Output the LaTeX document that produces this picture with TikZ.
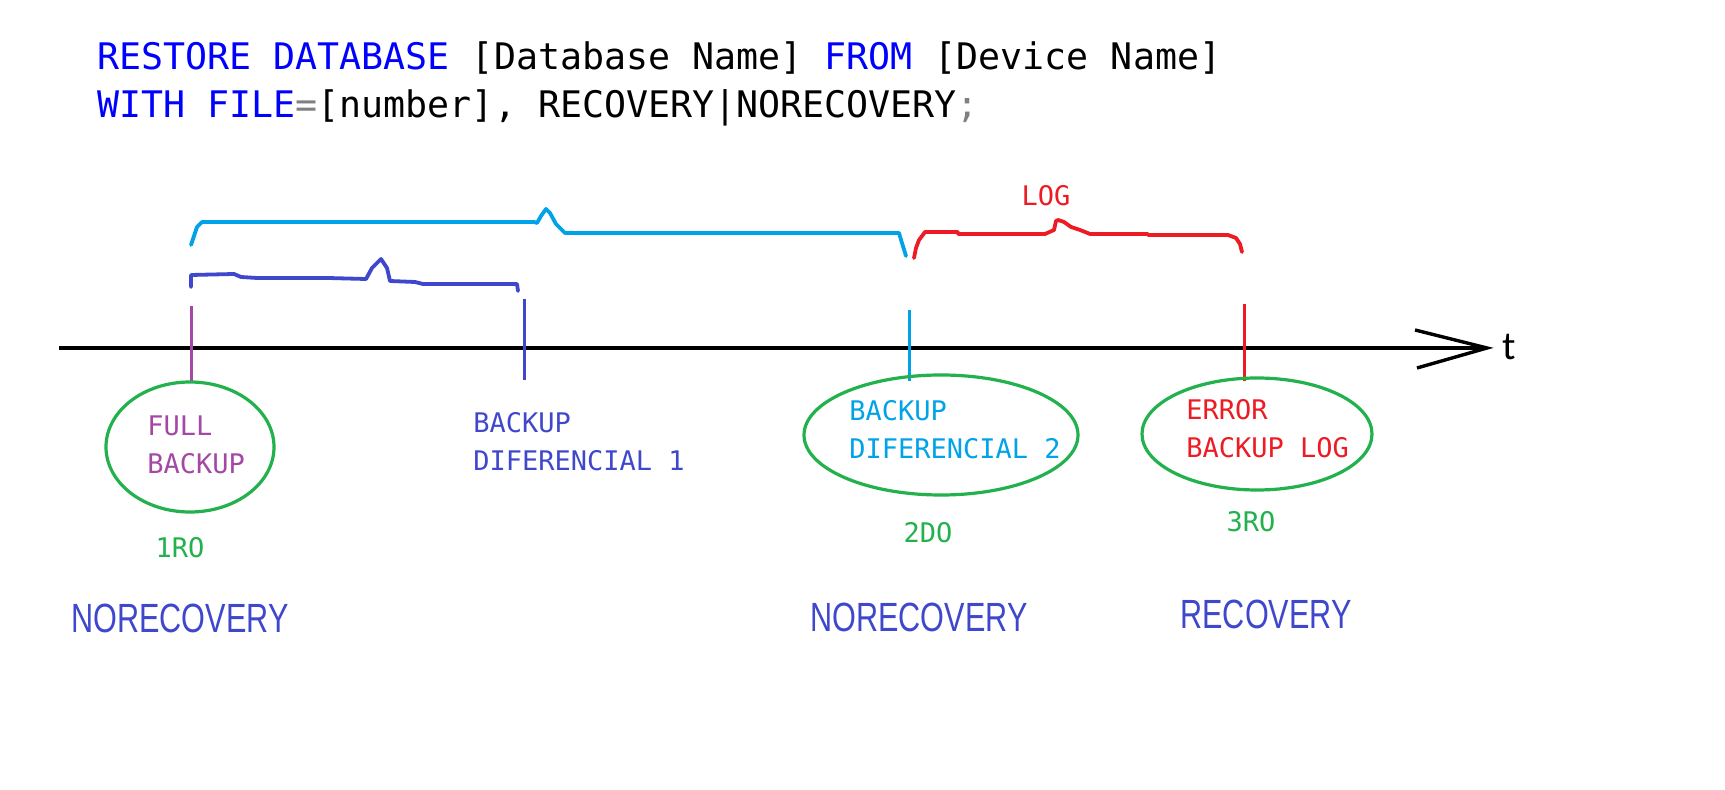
\documentclass[tikz,border=0pt]{standalone}
\usepackage{fontspec}
\usetikzlibrary{shapes.geometric}
\newfontfamily\codefont{DejaVu Sans Mono}
\newfontfamily\modefont{Liberation Sans}[FakeStretch=0.75]
\newfontfamily\axisfont{Carlito}
\definecolor{kwblue}{HTML}{0000FF}
\definecolor{opgray}{HTML}{808080}
\definecolor{indigo}{HTML}{3F48CC}
\definecolor{turq}{HTML}{00A2E8}
\definecolor{plum}{HTML}{A349A4}
\definecolor{paintred}{HTML}{ED1C24}
\definecolor{paintgreen}{HTML}{22B14C}
\tikzset{
	tick/.style={line width=1.5pt},
	brace/.style={line width=1.9pt, line join=round, line cap=round},
	ring/.style={draw=paintgreen, ellipse, line width=1.6pt, inner sep=0pt},
	lbl/.style={font=\codefont\fontsize{13.5}{19}\selectfont, align=left, anchor=west, inner sep=0pt},
	ord/.style={font=\codefont\fontsize{13.5}{19}\selectfont, text=paintgreen, inner sep=0pt},
	mode/.style={font=\modefont\fontsize{20.4}{24}\selectfont, text=indigo, inner sep=0pt},
}
\begin{document}
\begin{tikzpicture}[x=0.5pt, y=-0.5pt]
	\path[use as bounding box, fill=white] (0,0) rectangle (1725,790);
	
	% sql syntax
	\node[anchor=base west, inner sep=0pt, font=\codefont\fontsize{18.3}{24}\selectfont] (sql1) at (97,70)
	{{\color{kwblue}RESTORE DATABASE} [Database Name] {\color{kwblue}FROM} [Device Name]};
	\node[anchor=base west, inner sep=0pt, font=\codefont\fontsize{18.3}{24}\selectfont] (sql2) at (97,118)
	{{\color{kwblue}WITH FILE}{\color{opgray}=}[number], RECOVERY|NORECOVERY{\color{opgray};}};
	
	% time axis
	\coordinate (t0) at (59,348);
	\coordinate (tip) at (1487,348);
	\coordinate (armA) at (1415,330);
	\coordinate (armB) at (1417,368);
	\draw[line width=1.7pt] (t0) -- (tip);
	\draw[line width=1.7pt] (armA) -- (tip) -- (armB);
	\node[font=\axisfont\fontsize{20}{24}\selectfont, inner sep=0pt] (tlab) at (1509,347) {t};
	
	\foreach \n/\xx/\ya/\yb/\col in {full/191/306/381/plum, dif1/524/299/380/indigo, dif2/909/310/381/turq, err/1244/304/381/paintred}
	{
		\coordinate (\n-a) at (\xx,\ya);
		\coordinate (\n-b) at (\xx,\yb);
		\draw[tick, draw=\col] (\n-a) -- (\n-b);
	}
	
	% braces
	\draw[brace, turq] (191,245) -- (194,236) -- (197,227) -- (202,222) -- (534,222) -- (537,223) -- (541,216) -- (546,209) -- (550,213) -- (556,224) -- (565,233) -- (899,233) -- (902,243) -- (906,256);
	\draw[brace, indigo] (191,287) -- (191,275) -- (234,274) -- (241,277) -- (257,278) -- (328,278) -- (366,279) -- (372,268) -- (381,259) -- (387,268) -- (390,281) -- (415,282) -- (423,284) -- (517,284) -- (518,291);
	\draw[brace, paintred] (914,258) -- (916,248) -- (919,240) -- (925,232) -- (958,232) -- (958,234) -- (1045,234) -- (1054,230) -- (1056,221) -- (1058,220) -- (1064,222) -- (1071,227) -- (1080,230) -- (1090,234) -- (1148,234) -- (1148,235) -- (1228,235) -- (1236,238) -- (1240,244) -- (1242,252);
	\node[ord, text=paintred] (log) at (1046,196) {LOG};
	
	% backups
	\node[ring, minimum width=84pt, minimum height=65pt] (e1) at (190,447) {};
	\node[ring, minimum width=137pt, minimum height=60pt] (e2) at (941,435) {};
	\node[ring, minimum width=115pt, minimum height=56pt] (e3) at (1257,434) {};
	
	\node[lbl, text=plum] (full) at (147,445) {FULL\\BACKUP};
	\node[lbl, text=indigo] (dif1) at (473,442) {BACKUP\\DIFERENCIAL 1};
	\node[lbl, text=turq] (dif2) at (849,430) {BACKUP\\DIFERENCIAL 2};
	\node[lbl, text=paintred] (err) at (1186,429) {ERROR\\BACKUP LOG};
	
	\node[ord] (o1) at (180,548) {1RO};
	\node[ord] (o2) at (928,533) {2DO};
	\node[ord] (o3) at (1251,522) {3RO};
	
	\node[mode] (m1) at (180,618) {NORECOVERY};
	\node[mode] (m2) at (919,617) {NORECOVERY};
	\node[mode] (m3) at (1266,614) {RECOVERY};
\end{tikzpicture}
\end{document}
